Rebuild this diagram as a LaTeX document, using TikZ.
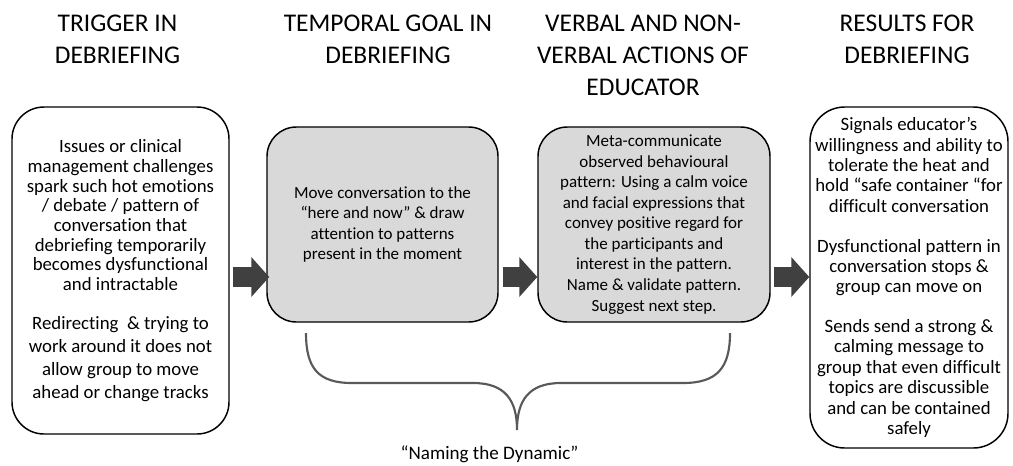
\documentclass[tikz,border=0pt]{standalone}
\usepackage{fontspec}
\setmainfont{Carlito}[Ligatures=NoCommon]
\usetikzlibrary{arrows.meta}
\definecolor{boxgray}{RGB}{217,217,217}
\definecolor{arrowgray}{RGB}{64,64,64}
\definecolor{bracegray}{RGB}{89,89,89}
\tikzset{
  head/.style={align=center,inner sep=0pt,font=\fontsize{19.1}{24}\selectfont},
  bigbox/.style={draw=black,line width=1.1pt,fill=white,rounded corners=24pt,align=center,inner sep=0pt,font=\fontsize{14.1}{14.8}\selectfont},
  greybox/.style={draw=black,line width=1.1pt,fill=boxgray,rounded corners=22pt,align=center,inner sep=0pt,minimum height=146.25pt,font=\fontsize{12.75}{15.4}\selectfont},
  blockarrow/.style={draw=arrowgray,line width=15pt,shorten <=2.25pt,-{Triangle[length=13.5pt,width=29.25pt]}},
}
\begin{document}
\begin{tikzpicture}[x=0.75pt,y=0.75pt,yscale=-1,xscale=1]
\useasboundingbox (0,0) rectangle (1013,465);

% Text Node
\node[head] (h1) at (117.5,39) {TRIGGER IN\\DEBRIEFING};
% Text Node
\node[head] (h2) at (388,39) {TEMPORAL GOAL IN\\DEBRIEFING};
% Text Node
\node[head] (h3) at (643,55) {VERBAL AND NON-\\VERBAL ACTIONS OF\\EDUCATOR};
% Text Node
\node[head] (h4) at (907,39) {RESULTS FOR\\DEBRIEFING};

%Rounded Rect
\node[bigbox,minimum width=162.75pt,minimum height=245.25pt] (b1) at (120.5,270.5) {Issues or clinical\\management challenges\\spark such hot emotions\\/ debate / pattern of\\conversation that\\debriefing temporarily\\becomes dysfunctional\\and intractable\\[14pt]Redirecting~ \& trying to\\[2.5pt]work around it does not\\[2.5pt]allow group to move\\[2.5pt]ahead or change tracks};
%Rounded Rect
\node[greybox,minimum width=173.25pt] (b2) at (382.5,224.5) {Move conversation to the\\“here and now” \& draw\\attention to patterns\\present in the moment};
%Rounded Rect
\node[greybox,minimum width=174pt] (b3) at (654,224.5) {Meta-communicate\\observed behavioural\\pattern: Using a calm voice\\and facial expressions that\\convey positive regard for\\the participants and\\interest in the pattern.\\Name \& validate pattern.\\Suggest next step.};
%Rounded Rect
\node[bigbox,rounded corners=26pt,minimum width=148.5pt,minimum height=255.75pt,font=\fontsize{14.1}{15.3}\selectfont] (b4) at (909,277.5) {Signals educator’s\\willingness and ability to\\tolerate the heat and\\hold “safe container “for\\difficult conversation\\[14.5pt]Dysfunctional pattern in\\conversation stops \&\\group can move on\\[14.5pt]Sends send a strong \&\\calming message to\\group that even difficult\\topics are discussible\\and can be contained\\safely};

%Block Arrows
\coordinate (arrowrow) at (0,277);
\draw[blockarrow,shorten >=-2.25pt] (b1.east |- arrowrow) -- (b2.west |- arrowrow);
\draw[blockarrow,shorten <=3pt] (b2.east |- arrowrow) -- (b3.west |- arrowrow);
\draw[blockarrow] (b3.east |- arrowrow) -- (b4.west |- arrowrow);

%Shape: Brace
\draw[bracegray,line width=1.6pt] (306,333) .. controls (306,368) and (318,383) .. (352,383) -- (473,383) .. controls (505,383) and (517,400) .. (517,430) .. controls (517,400) and (529,383) .. (561,383) -- (683,383) .. controls (717,383) and (730,368) .. (730,333);

% Text Node
\node[anchor=base,inner sep=0pt,font=\fontsize{14.3}{17}\selectfont] (naming) at (489.5,459.5) {“Naming the Dynamic”};

\end{tikzpicture}
\end{document}
